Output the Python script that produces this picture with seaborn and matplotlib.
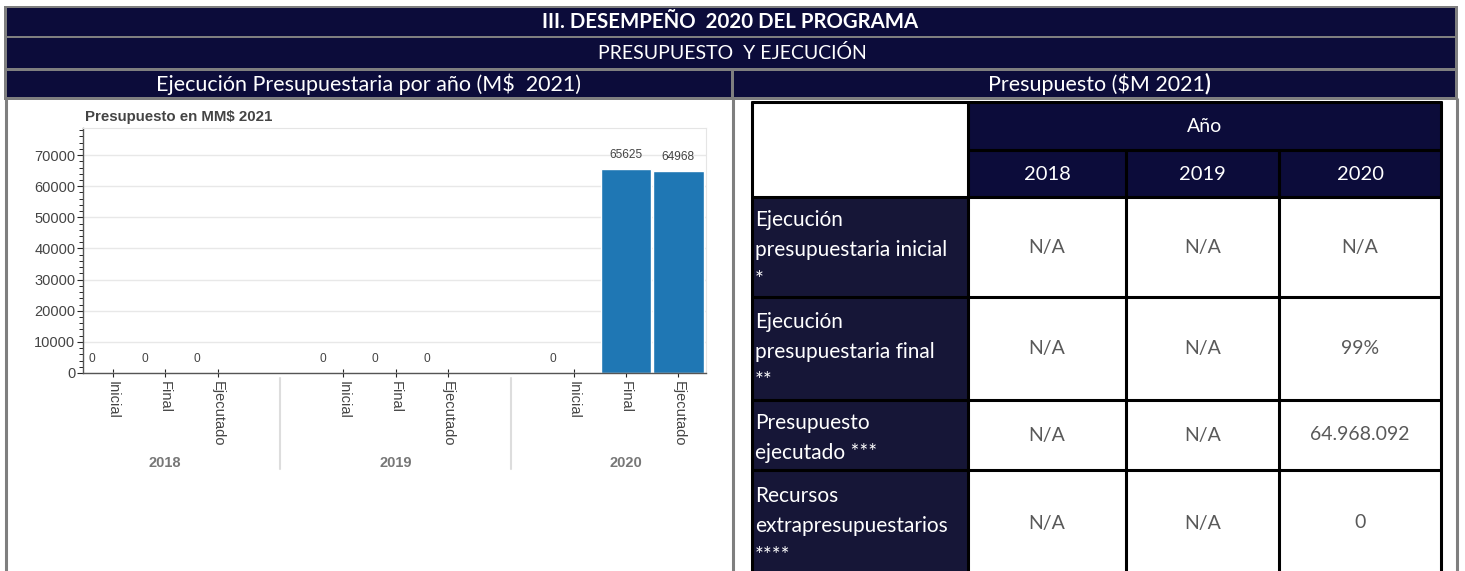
"""
Desempeño 2020 del programa: gráfico de presupuesto por año + tabla resumen
Salida: out.png
"""
import numpy as np
import pandas as pd
import matplotlib
matplotlib.use("Agg")
import matplotlib.pyplot as plt
import matplotlib.transforms as mtransforms
from matplotlib.patches import Rectangle
from matplotlib.ticker import MultipleLocator
import seaborn as sns

# =============================================
# Datos
# =============================================
anios = ["2018", "2019", "2020"]
tipos = ["Inicial", "Final", "Ejecutado"]
montos_2018 = [0, 0, 0]
montos_2019 = [0, 0, 0]
montos_2020 = [0, 65625, 64968]

filas_tabla = [
    "Ejecución\npresupuestaria inicial\n*",
    "Ejecución\npresupuestaria final\n**",
    "Presupuesto\nejecutado ***",
    "Recursos\nextrapresupuestarios\n****",
]
valores_2018 = ["N/A", "N/A", "N/A", "N/A"]
valores_2019 = ["N/A", "N/A", "N/A", "N/A"]
valores_2020 = ["N/A", "99%", "64.968.092", "0"]

titulo = "III. DESEMPEÑO  2020 DEL PROGRAMA"
subtitulo = "PRESUPUESTO  Y EJECUCIÓN"
titulo_grafico = "Ejecución Presupuestaria por año (M$  2021)"
titulo_tabla = "Presupuesto ($M 2021"

# =============================================
# Estilo
# =============================================
sns.set_style("white")
plt.rcParams["font.family"] = ["Lato", "DejaVu Sans"]

NAVY = "#0c0c3a"
NAVY_FILA = "#161637"
GRIS = "#7f7f7f"
AZUL = "#1f77b4"
TXT = "#444444"

W, H = 1465, 571
fig = plt.figure(figsize=(W / 100, H / 100), dpi=100)

# capa de fondo en pixeles (y hacia abajo)
bg = fig.add_axes([0, 0, 1, 1], zorder=0)
bg.set_xlim(0, W)
bg.set_ylim(H, 0)
bg.axis("off")


def rect(x0, y0, x1, y1, color):
    bg.add_patch(Rectangle((x0, y0), x1 - x0, y1 - y0, facecolor=color,
                           edgecolor="none", linewidth=0))


# =============================================
# Encabezado
# =============================================
rect(4, 6, 1458, 100, GRIS)
rect(7, 8, 1455, 35.5, NAVY)
rect(7, 38, 1455, 67.5, NAVY)
rect(7, 71, 731, 97, NAVY)
rect(734, 71, 1455, 97, NAVY)
rect(7, 99.5, 731, 571, "white")
rect(734, 99.5, 1455, 571, "white")
for x in [5.5, 732.5, 1456.5]:
    bg.plot([x, x], [98, H], color=GRIS, lw=2.2, solid_capstyle="butt")

bg.text(730, 22, titulo, color="white", fontsize=14.7, fontweight="bold",
        ha="center", va="center")
bg.text(732, 53, subtitulo, color="white", fontsize=14, ha="center", va="center")
bg.text(369, 84, titulo_grafico, color="white", fontsize=15.5, ha="center", va="center")
t_tabla = bg.text(1096, 84, titulo_tabla, color="white", fontsize=15.5,
                  ha="center", va="center")
bg.annotate(")", xy=(1, 0.5), xycoords=t_tabla, ha="left", va="center",
            color="white", fontsize=15.5, fontweight="bold")

# =============================================
# Tabla
# =============================================
col_x = [752, 968, 1126, 1279, 1441]
fila_y = [102, 150, 197, 297, 400, 470, 576]
valores = [valores_2018, valores_2019, valores_2020]

rect(col_x[0], fila_y[0], col_x[1], fila_y[2], "white")
rect(col_x[1], fila_y[0], col_x[-1], fila_y[1], NAVY)
bg.text((col_x[1] + col_x[-1]) / 2, 126, "Año", color="white", fontsize=14,
        ha="center", va="center")
for j, anio in enumerate(anios):
    rect(col_x[j + 1], fila_y[1], col_x[j + 2], fila_y[2], NAVY)
    bg.text((col_x[j + 1] + col_x[j + 2]) / 2, 174, anio, color="white",
            fontsize=14.5, ha="center", va="center")

for i, fila in enumerate(filas_tabla):
    y0, y1 = fila_y[i + 2], fila_y[i + 3]
    yc = (y0 + y1) / 2
    rect(col_x[0], y0, col_x[1], y1, NAVY_FILA)
    bg.text(col_x[0] + 3, yc + 3, fila, color="white", fontsize=15, ha="left",
            va="center", linespacing=1.62)
    for j in range(len(anios)):
        bg.text((col_x[j + 1] + col_x[j + 2]) / 2, yc, valores[j][i],
                color="#595959", fontsize=14, ha="center", va="center")

# bordes negros
lw_t = 2.2
for x in [col_x[0], col_x[1], col_x[-1]]:
    bg.plot([x, x], [fila_y[0], H], color="black", lw=lw_t)
for x in col_x[2:4]:
    bg.plot([x, x], [fila_y[1], H], color="black", lw=lw_t)
for y in [fila_y[0]] + fila_y[2:6]:
    bg.plot([col_x[0], col_x[-1]], [y, y], color="black", lw=lw_t)
bg.plot([col_x[1], col_x[-1]], [fila_y[1], fila_y[1]], color="black", lw=lw_t)

# =============================================
# Gráfico de barras
# =============================================
montos = [montos_2018, montos_2019, montos_2020]
registros = []
for g, anio in enumerate(anios):
    for k, tipo in enumerate(tipos):
        registros.append({"anio": anio, "tipo": tipo, "monto": montos[g][k],
                          "pos": g * 4.4 + k})
df = pd.DataFrame(registros)

ax = fig.add_axes([83 / W, 1 - 373 / H, (706 - 83) / W, (373 - 128) / H], zorder=1)
sns.barplot(data=df, x="pos", y="monto", native_scale=True, width=0.97,
            color=AZUL, saturation=1, edgecolor="white", linewidth=1,
            errorbar=None, ax=ax)

ax.set_xlim(-0.57, 11.33)
ax.set_ylim(0, 78700)
ax.set_xlabel("")
ax.set_ylabel("")

ax.yaxis.set_major_locator(MultipleLocator(10000))
ax.yaxis.set_minor_locator(MultipleLocator(2000))
ax.set_xticks(df["pos"])
ax.set_xticklabels(df["tipo"], rotation=270, family="Liberation Sans",
                   fontsize=10.5, color=TXT)
for lab in ax.get_yticklabels():
    lab.set_family("Liberation Sans")
ax.tick_params(axis="y", which="major", direction="out", length=4.5, width=0.8,
               labelsize=10.5, labelcolor=TXT, left=True, pad=1)
ax.tick_params(axis="y", which="minor", direction="out", length=2.8, width=0.7, left=True)
ax.tick_params(axis="x", which="major", direction="inout", length=6, width=0.8,
               bottom=True, pad=3)

ax.grid(axis="y", color="#e8e8e8", lw=1)
ax.set_axisbelow(True)
for lado in ["top", "right"]:
    ax.spines[lado].set_color("#e5e5e5")
for lado in ["left", "bottom"]:
    ax.spines[lado].set_color("#555555")
    ax.spines[lado].set_linewidth(1)

# etiquetas de valor
for _, r in df.iterrows():
    dx = 0 if r["monto"] > 0 else -15
    ax.annotate(f"{r['monto']:.0f}", xy=(r["pos"], r["monto"]), xytext=(dx, 10),
                textcoords="offset points", ha="center", va="center",
                fontsize=8.6, color=TXT, family="Liberation Sans")

# etiquetas de grupo y separadores
trans = mtransforms.blended_transform_factory(ax.transData, ax.transAxes)
centros = df.groupby("anio")["pos"].mean()
for anio in anios:
    ax.text(centros[anio], -0.367, anio, transform=trans, ha="center", va="center",
            fontsize=10.5, fontweight="bold", color="#777777", family="Liberation Sans")
for g in range(len(anios) - 1):
    sep = (df["pos"][g * 3 + 2] + df["pos"][(g + 1) * 3]) / 2
    ax.plot([sep, sep], [-0.02, -0.39], transform=trans, color="#dddddd", lw=1.5,
            clip_on=False)

ax.text(0.003, 1.045, "Presupuesto en MM$ 2021", transform=ax.transAxes,
        ha="left", va="center", fontsize=10.8, fontweight="bold", color=TXT,
        family="Liberation Sans")

fig.savefig("out.png", dpi=100)
